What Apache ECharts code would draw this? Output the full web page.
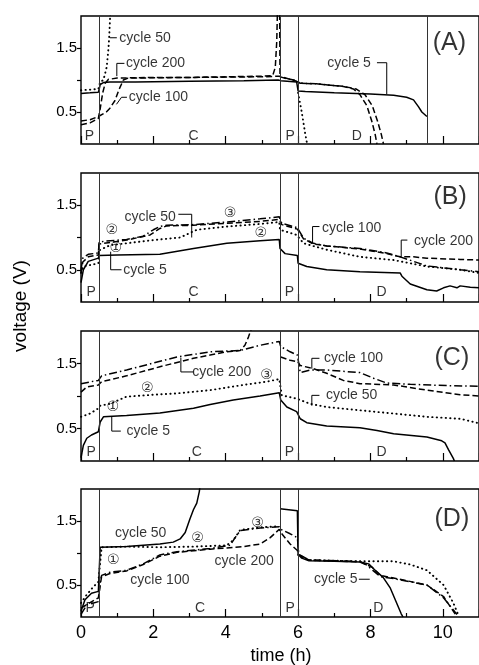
<!DOCTYPE html>
<html><head><meta charset="utf-8">
<script src="https://cdn.jsdelivr.net/npm/echarts@6/dist/echarts.min.js"></script>
<style>html,body{margin:0;padding:0;background:#fff}#c{width:479px;height:665px}</style>
</head><body><div id="c"></div>
<script>
// ---------- axis / tick data ----------
const xTickLabels = [0, 2, 4, 6, 8, 10];
const yTickLabels = [0.5, 1.5];
const yTickValues = [0.5, 1, 1.5];
const phaseBounds = [0.5, 5.5, 6];
const panelNames = ['(A)', '(B)', '(C)', '(D)'];

// ---------- panel A ----------
const a_cycle5 = [[0,0.79],[0.25,0.8],[0.48,0.81],[0.5,0.85],[0.53,0.93],[0.62,0.96],[0.8,0.97],[1.5,0.97],[3,0.98],[4.5,0.99],[5.45,1.0],[5.52,0.99],[5.96,0.97],[6.0,0.83],[6.2,0.82],[7,0.8],[8,0.78],[8.64,0.76],[9.0,0.73],[9.19,0.69],[9.33,0.58],[9.42,0.5],[9.56,0.43]];
const a_cycle50 = [[0,0.84],[0.25,0.85],[0.48,0.86],[0.53,0.97],[0.62,1.0],[0.71,1.2],[0.76,1.5],[0.78,1.68],[0.81,2.05],[3,null],[6.0,0.8],[6.1,0.5],[6.2,0.15],[6.25,0]];
const a_cycle200 = [[0,0.3],[0.25,0.33],[0.48,0.4],[0.53,0.55],[0.6,0.8],[0.67,0.95],[0.76,1.01],[1.0,1.03],[2,1.04],[3,1.04],[4,1.05],[5,1.06],[5.3,1.07],[5.37,1.2],[5.41,1.6],[5.43,2.1],[5.49,2.1],[5.5,1.05],[5.7,1.02],[5.96,0.99],[6.05,0.95],[6.5,0.94],[7.25,0.9],[7.53,0.86],[7.71,0.77],[7.9,0.6],[8.04,0.35],[8.13,0.15],[8.18,0]];
const a_cycle100 = [[0,0.36],[0.25,0.38],[0.48,0.43],[0.53,0.45],[0.7,0.5],[0.8,0.56],[0.94,0.68],[1.05,0.85],[1.17,1.0],[1.3,1.03],[3,1.04],[5,1.05],[5.48,1.06],[5.5,1.03],[5.96,0.98],[6.05,0.95],[6.5,0.94],[7.25,0.9],[7.6,0.86],[7.85,0.77],[8.05,0.6],[8.2,0.35],[8.3,0.15],[8.36,0]];

// ---------- panel B ----------
const b_cycle5 = [[0,0.3],[0.065,0.5],[0.2,0.63],[0.48,0.68],[0.5,0.72],[1.0,0.73],[2.18,0.74],[3.11,0.83],[4.03,0.91],[4.95,0.95],[5.48,0.97],[5.5,0.83],[5.64,0.75],[5.98,0.72],[6.0,0.6],[6.24,0.55],[6.79,0.5],[7.71,0.47],[8.82,0.45],[8.87,0.4],[9.1,0.28],[9.56,0.19],[9.83,0.17],[10.02,0.22],[10.2,0.25],[10.39,0.22],[10.48,0.25],[10.76,0.23],[11,0.22]];
const b_dotted = [[0,0.45],[0.065,0.55],[0.48,0.6],[0.5,0.8],[0.8,0.88],[2.0,0.96],[2.74,1.0],[3.2,1.12],[4.03,1.17],[4.95,1.21],[5.48,1.24],[5.5,1.12],[5.96,1.04],[6.15,0.91],[6.79,0.81],[7.71,0.7],[8.64,0.65],[9.56,0.55],[10.48,0.5],[11,0.45]];
const b_cycle100 = [[0,0.5],[0.05,0.68],[0.2,0.74],[0.48,0.76],[0.5,0.92],[0.62,0.94],[1.26,0.97],[1.72,1.02],[2.0,1.12],[2.18,1.17],[2.37,1.19],[3.11,1.2],[4.03,1.24],[4.95,1.29],[5.48,1.32],[5.55,1.22],[5.87,1.17],[5.98,1.15],[6.15,0.99],[6.42,0.91],[6.79,0.87],[7.71,0.83],[8.45,0.76],[8.82,0.7],[9.19,0.63],[9.56,0.56],[10.48,0.5],[11,0.47]];
const b_cycle200 = [[0,0.45],[0.05,0.62],[0.2,0.7],[0.48,0.73],[0.5,0.9],[1.26,0.96],[1.91,1.04],[2.18,1.14],[2.37,1.18],[3.11,1.19],[4.03,1.22],[4.95,1.25],[5.48,1.28],[5.55,1.2],[5.98,1.13],[6.15,0.98],[6.42,0.9],[6.79,0.87],[7.71,0.82],[8.45,0.75],[8.82,0.7],[9.19,0.7],[9.56,0.68],[10.48,0.66],[11,0.65]];

// ---------- panel C ----------
const c_cycle5 = [[0,0.05],[0.065,0.24],[0.16,0.35],[0.29,0.4],[0.48,0.45],[0.53,0.6],[0.62,0.68],[1.26,0.7],[2.18,0.74],[3.11,0.81],[3.57,0.87],[4.21,0.94],[4.95,1.0],[5.48,1.05],[5.52,0.94],[5.69,0.83],[5.96,0.76],[6.06,0.65],[6.24,0.59],[6.79,0.54],[7.71,0.51],[8.18,0.47],[8.64,0.42],[9.56,0.37],[9.97,0.31],[10.02,0.33],[10.06,0.28],[10.16,0.17],[10.29,0.04],[10.32,0]];
const c_cycle50 = [[0,0.68],[0.25,0.73],[0.48,0.81],[0.53,0.85],[0.8,0.88],[1.26,0.99],[2.0,1.02],[2.65,1.04],[3.57,1.09],[4.49,1.17],[5.13,1.22],[5.48,1.26],[5.55,1.01],[5.96,0.96],[6.33,0.88],[6.79,0.83],[7.71,0.78],[8.64,0.73],[9.56,0.68],[10.48,0.65],[11,0.58]];
const c_cycle200 = [[0,1.06],[0.16,1.14],[0.48,1.17],[0.57,1.22],[1.26,1.31],[2.18,1.45],[3.11,1.58],[3.57,1.63],[4.03,1.68],[4.4,1.7],[4.53,1.78],[4.63,1.91],[4.72,2.05],[5.1,null],[5.52,1.6],[5.78,1.55],[5.98,1.53],[6.06,1.47],[6.42,1.42],[6.79,1.35],[7.25,1.24],[7.71,1.19],[8.64,1.17],[9.56,1.09],[10.48,1.02],[11,1.0]];
const c_cycle100 = [[0,1.19],[0.48,1.24],[0.57,1.31],[1.26,1.4],[2.65,1.6],[3.57,1.68],[4.4,1.7],[4.95,1.78],[5.48,1.84],[5.52,1.76],[5.78,1.68],[5.98,1.63],[6.06,1.36],[6.33,1.4],[6.79,1.4],[7.71,1.36],[8.1,1.27],[8.45,1.2],[9.1,1.18],[10.1,1.16],[11,1.15]];

// ---------- panel D ----------
const d_cycle50 = [[0,0.09],[0.11,0.27],[0.29,0.37],[0.48,0.4],[0.53,1.09],[1.26,1.1],[2.18,1.14],[2.55,1.17],[2.74,1.22],[2.88,1.32],[3.01,1.53],[3.11,1.68],[3.2,1.78],[3.27,1.96],[3.29,2.05],[4.5,null],[5.5,1.69],[5.98,1.66],[6.0,0.98],[6.1,0.92],[6.3,0.88],[7.0,0.87],[7.71,0.86],[7.95,0.83],[8.15,0.72],[8.35,0.62],[8.55,0.45],[8.7,0.25],[8.85,0.05],[8.9,0]];
const d_cycle5 = [[0,0.22],[0.16,0.35],[0.34,0.47],[0.48,0.55],[0.57,1.09],[1.26,1.1],[2.18,1.09],[3.11,1.1],[4.03,1.12],[4.21,1.2],[4.4,1.36],[4.95,1.4],[5.48,1.42],[5.7,null],[6.0,0.97],[6.3,0.89],[7.0,0.88],[7.71,0.87],[8.2,0.87],[8.64,0.87],[9.1,0.82],[9.56,0.73],[10.02,0.5],[10.29,0.22],[10.43,0.03]];
const d_cycle100 = [[0,0.04],[0.16,0.19],[0.48,0.24],[0.53,0.55],[0.57,0.65],[0.8,0.7],[1.26,0.73],[1.72,0.83],[2.18,0.97],[2.65,1.02],[3.57,1.07],[4.12,1.12],[4.26,1.24],[4.4,1.35],[4.95,1.39],[5.48,1.41],[5.52,1.37],[5.78,1.3],[5.98,1.24],[6.02,0.98],[6.3,0.89],[7.71,0.87],[7.9,0.81],[8.27,0.63],[8.64,0.6],[9.56,0.5],[10.02,0.3],[10.39,0.04]];
const d_cycle200 = [[0,0.14],[0.48,0.3],[0.53,0.5],[0.57,0.63],[0.8,0.68],[1.26,0.72],[1.72,0.82],[2.18,0.95],[2.65,1.01],[3.57,1.06],[4.03,1.08],[4.49,1.1],[4.95,1.14],[5.23,1.24],[5.48,1.37],[5.52,1.32],[5.78,1.14],[5.98,1.04],[6.02,0.97],[6.3,0.89],[7.71,0.86],[8.04,0.78],[8.27,0.65],[8.64,0.61],[9.56,0.5],[10.02,0.32],[10.35,0.04]];

// ---------- curves per panel: [data, line style] ----------
const panelCurves = [
  [[a_cycle5,'solid'],[a_cycle50,'dotted'],[a_cycle200,'dashed'],[a_cycle100,'dashed']],
  [[b_cycle5,'solid'],[b_dotted,'dotted'],[b_cycle100,'dashdot'],[b_cycle200,'dashed']],
  [[c_cycle5,'solid'],[c_cycle50,'dotted'],[c_cycle200,'dashed'],[c_cycle100,'dashdot']],
  [[d_cycle50,'solid'],[d_cycle5,'dotted'],[d_cycle100,'dashdot'],[d_cycle200,'dashed']]
];

// ---------- annotations (text, x, y) ----------
const panelTexts = [
  [['cycle 50',1.77,1.66],['cycle 200',2.06,1.26],['cycle 100',2.14,0.73],['cycle 5',7.41,1.27]],
  [['cycle 50',1.91,1.31],['cycle 5',1.77,0.5],['cycle 100',7.48,1.14],['cycle 200',10.02,0.95]],
  [['cycle 200',3.89,1.37],['cycle 5',1.86,0.46],['cycle 100',7.53,1.58],['cycle 50',7.48,1.01]],
  [['cycle 50',1.65,1.31],['cycle 100',2.18,0.58],['cycle 200',4.51,0.87],['cycle 5',7.04,0.59]]
];
const panelCircles = [
  [],
  [['②',0.85,1.11],['①',0.96,0.83],['③',4.12,1.38],['②',4.97,1.07]],
  [['①',0.88,0.83],['②',1.83,1.12],['③',5.13,1.31]],
  [['①',0.89,0.88],['②',3.22,1.23],['③',4.88,1.47]]
];
const panelPhases = [
  [['P',0.23,0.13],['C',3.11,0.13],['P',5.78,0.13],['D',7.62,0.13]],
  [['P',0.28,0.15],['C',3.11,0.15],['P',5.76,0.15],['D',8.31,0.15]],
  [['P',0.28,0.14],['C',3.2,0.14],['P',5.76,0.14],['D',8.31,0.14]],
  [['P',0.25,0.14],['C',3.29,0.14],['P',5.78,0.14],['D',8.22,0.14]]
];
const panelNamePos = [[10.18,1.57],[10.2,1.63],[10.25,1.58],[10.25,1.53]];
const panelLeaders = [
  [[0.8,1.66],[0.99,1.66],[0.99,null],[1.2,1.26],[0.99,1.26],[0.99,1.06],[1.1,null],[1.27,0.73],[1.12,0.73],[0.98,0.62],[5,null],[8.18,1.27],[8.45,1.27],[8.45,0.78]],
  [[2.69,1.36],[3.06,1.36],[3.06,1.0],[3.1,null],[1.12,0.5],[0.82,0.5],[0.82,0.78],[3,null],[6.59,1.17],[6.4,1.17],[6.4,0.91],[7,null],[9.02,0.96],[8.85,0.96],[8.85,0.7]],
  [[3.11,1.37],[2.76,1.37],[2.76,1.59],[3,null],[1.1,0.46],[0.85,0.46],[0.85,0.68],[3,null],[6.59,1.58],[6.38,1.58],[6.38,1.42],[6.5,null],[6.59,1.01],[6.38,1.01],[6.38,0.85]],
  [[7.68,0.59],[7.98,0.59]]
];
const extraBounds = [[9.58],[],[],[]];

// ---------- layout ----------
const FONT = '"Liberation Sans", Arial, Helvetica, sans-serif';
const grids = [
  {left:81, width:398, top:16, height:128},
  {left:81, width:398, top:173, height:129},
  {left:81, width:398, top:331, height:130},
  {left:81, width:398, top:489, height:128}
];
const dashTypes = {solid:'solid', dotted:[0.3,4.2], dashed:[6,3], dashdot:[8,3,1.5,3]};

const xAxes = grids.map((g,i)=>({
  type:'value', gridIndex:i, min:0, max:11, interval:2,
  axisLine:{show:false}, splitLine:{show:false},
  axisTick:{show:true, inside:true, length:8, lineStyle:{color:'#000', width:1.2}},
  minorTick:{show:true, splitNumber:2, length:4, lineStyle:{color:'#000', width:1.2}},
  axisLabel:{show:i===3, showMaxLabel:false, fontSize:18, margin:7, color:'#000', fontFamily:FONT,
    formatter:v=>xTickLabels.includes(v)?String(v):''}
}));
const yAxes = grids.map((g,i)=>({
  type:'value', gridIndex:i, min:0, max:2, interval:0.5,
  axisLine:{show:false}, splitLine:{show:false},
  axisTick:{show:true, inside:false, length:4, customValues:yTickValues, lineStyle:{color:'#000', width:1.2}},
  axisLabel:{show:true, fontSize:15, margin:4, color:'#000', fontFamily:FONT, customValues:yTickLabels,
    formatter:v=>yTickLabels.includes(v)?v.toFixed(1):''}
}));

const series = [];
panelCurves.forEach((curves,i)=>{
  curves.forEach(([data,st])=>{
    series.push({type:'line', xAxisIndex:i, yAxisIndex:i, data:data, symbol:'none', showSymbol:false,
      connectNulls:false, clip:true, silent:true, z:3,
      lineStyle:{color:'#000', width:st==='dotted'?1.9:1.5, type:dashTypes[st], cap:st==='dotted'?'round':'butt'}});
  });
  // leaders + phase boundary lines
  series.push({type:'line', xAxisIndex:i, yAxisIndex:i, data:panelLeaders[i], symbol:'none', showSymbol:false,
    connectNulls:false, silent:true, z:4, lineStyle:{color:'#000', width:1}, 
    markLine:{silent:true, symbol:['none','none'], label:{show:false}, animation:false,
      lineStyle:{color:'#333', width:1, type:'solid'},
      data:phaseBounds.concat(extraBounds[i]).map(v=>({xAxis:v}))}});
  const textItem = (arr)=>arr.map(([t,x,y])=>({name:t, value:[x,y]}));
  series.push({type:'scatter', xAxisIndex:i, yAxisIndex:i, symbolSize:0, silent:true, z:5,
    data:textItem(panelTexts[i]),
    label:{show:true, position:'inside', formatter:'{b}', color:'#000', fontSize:14, fontFamily:FONT}});
  series.push({type:'scatter', xAxisIndex:i, yAxisIndex:i, symbolSize:0, silent:true, z:5,
    data:textItem(panelCircles[i]),
    label:{show:true, position:'inside', formatter:'{b}', color:'#000', fontSize:14, fontFamily:'"DejaVu Sans", sans-serif'}});
  series.push({type:'scatter', xAxisIndex:i, yAxisIndex:i, symbolSize:0, silent:true, z:5,
    data:textItem(panelPhases[i]),
    label:{show:true, position:'inside', formatter:'{b}', color:'#000', fontSize:14, fontFamily:FONT}});
  series.push({type:'scatter', xAxisIndex:i, yAxisIndex:i, symbolSize:0, silent:true, z:5,
    data:[{name:panelNames[i], value:panelNamePos[i]}],
    label:{show:true, position:'inside', formatter:'{b}', color:'#000', fontSize:25, fontFamily:FONT}});
});

const chart = echarts.init(document.getElementById('c'), null, {renderer:'canvas'});
chart.setOption({
  animation:false,
  backgroundColor:'#fff',
  grid:grids.map(g=>Object.assign({show:true, borderColor:'#000', borderWidth:1.4, backgroundColor:'transparent'}, g)),
  xAxis:xAxes, yAxis:yAxes, series:series,
  graphic:[
    {type:'text', x:21, y:306, rotation:Math.PI/2, style:{text:'voltage (V)', fontSize:19, fontFamily:FONT, fill:'#000', textAlign:'center', textVerticalAlign:'middle'}},
    {type:'text', x:281, y:656, style:{text:'time (h)', fontSize:18, fontFamily:FONT, fill:'#000', textAlign:'center', textVerticalAlign:'middle'}}
  ]
});
</script></body></html>
